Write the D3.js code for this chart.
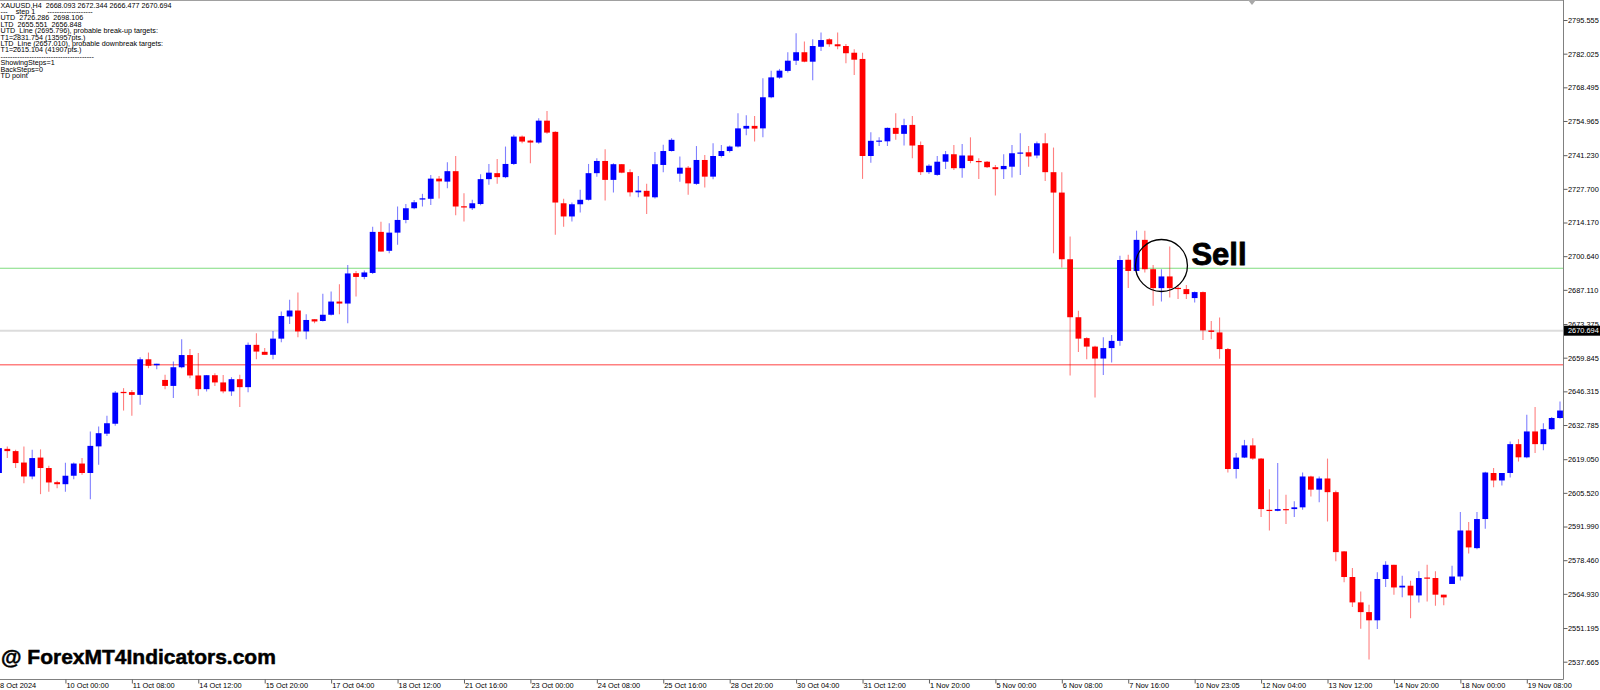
<!DOCTYPE html>
<html>
<head>
<meta charset="utf-8">
<script src="https://cdn.jsdelivr.net/npm/d3@7/dist/d3.min.js"></script>
<style>
  html, body { margin: 0; padding: 0; background: #fff; }
  svg { display: block; }
</style>
</head>
<body>
<div id="chart"></div>
<script>
// ---------------- DATA ----------------
const opens = [
2613.5,2623.2,2622.3,2617.7,2612.1,2619.7,2615.5,2609.8,2609.0,2612.4,
2617.3,2613.5,2624.2,2629.3,2633.3,2646.1,2646.0,2644.9,2659.2,2656.8,
2650.9,2648.5,2656.0,2660.9,2652.7,2647.2,2652.8,2649.9,2646.3,2651.2,
2648.0,2665.0,2662.2,2661.0,2667.5,2676.4,2678.8,2670.4,2675.3,2674.6,
2677.1,2682.4,2681.6,2693.8,2692.3,2693.9,2710.4,2702.8,2710.1,2715.2,
2719.9,2723.4,2723.7,2731.8,2730.6,2734.8,2720.7,2719.9,2721.6,2731.6,
2734.0,2732.4,2737.7,2748.7,2747.1,2746.3,2755.1,2750.6,2721.9,2716.6,
2721.5,2723.3,2734.0,2738.9,2731.3,2737.6,2734.4,2726.3,2726.9,2724.3,
2737.3,2742.9,2733.8,2736.2,2729.7,2739.3,2732.6,2740.9,2742.9,2744.7,
2751.9,2753.0,2752.0,2764.5,2772.4,2775.1,2779.2,2782.6,2778.8,2784.8,
2787.8,2785.8,2785.1,2782.4,2779.9,2740.9,2746.7,2746.8,2752.2,2749.8,
2753.4,2745.3,2734.4,2733.3,2738.6,2741.6,2736.0,2741.1,2738.9,2738.6,
2736.4,2735.6,2736.6,2741.9,2742.4,2741.1,2746.0,2734.4,2726.2,2699.4,
2676.1,2667.7,2664.3,2659.5,2663.7,2666.6,2699.2,2694.7,2707.2,2695.4,
2687.8,2692.5,2687.9,2687.4,2683.8,2686.2,2670.8,2670.0,2663.3,2615.1,
2619.7,2624.6,2619.3,2598.7,2598.3,2599.0,2599.0,2599.7,2612.1,2606.8,
2611.3,2605.8,2582.0,2571.7,2561.5,2557.6,2554.3,2570.9,2576.6,2567.5,
2568.2,2564.3,2571.5,2571.3,2564.6,2568.9,2571.9,2590.4,2583.3,2595.0,
2613.5,2610.5,2613.5,2625.1,2619.8,2630.2,2625.1,2631.1,2635.6
];
const highs = [
2624.5,2624.2,2622.8,2624.2,2622.8,2623.0,2616.4,2610.4,2617.6,2617.7,
2619.5,2630.2,2632.2,2636.5,2646.5,2647.6,2646.9,2660.0,2661.9,2657.4,
2653.0,2658.3,2667.3,2663.3,2661.7,2652.9,2653.6,2652.9,2652.0,2653.0,
2665.9,2669.7,2663.7,2670.6,2678.4,2683.1,2686.0,2677.3,2675.3,2685.5,
2686.4,2689.4,2697.1,2694.7,2694.9,2712.5,2714.5,2713.9,2720.6,2721.6,
2723.2,2725.7,2733.3,2732.9,2738.4,2740.9,2725.9,2723.3,2733.6,2737.7,
2739.7,2744.7,2749.4,2749.1,2747.4,2756.1,2759.0,2750.8,2723.7,2722.2,
2727.3,2737.7,2740.0,2743.6,2738.0,2737.7,2735.6,2732.9,2729.7,2742.5,
2745.4,2748.0,2740.7,2736.9,2744.9,2741.3,2746.0,2745.3,2745.1,2758.1,
2757.3,2757.0,2772.1,2775.2,2775.9,2782.6,2790.2,2786.9,2787.8,2790.5,
2788.2,2790.5,2785.9,2783.8,2782.4,2750.4,2748.4,2752.4,2758.1,2755.9,
2757.0,2746.7,2737.6,2740.9,2742.9,2745.3,2745.7,2748.4,2740.0,2738.9,
2737.3,2741.6,2745.3,2750.0,2744.9,2746.7,2750.0,2744.3,2734.4,2708.5,
2678.7,2668.1,2664.6,2668.1,2669.0,2700.8,2701.2,2710.9,2710.9,2697.1,
2695.4,2704.5,2689.1,2689.1,2686.4,2686.4,2674.6,2676.0,2663.7,2621.5,
2626.8,2627.5,2619.5,2607.0,2617.5,2604.8,2602.1,2613.7,2612.4,2612.1,
2619.3,2606.5,2582.2,2575.3,2565.9,2560.6,2573.6,2578.0,2576.6,2572.2,
2570.2,2574.0,2576.6,2574.0,2564.6,2576.2,2597.8,2593.8,2597.8,2614.0,
2615.5,2613.5,2626.2,2627.1,2636.9,2640.0,2633.5,2636.0,2642.2
];
const lows = [
2612.5,2619.5,2615.5,2609.4,2611.0,2605.0,2606.0,2607.4,2606.0,2611.0,
2612.8,2603.0,2616.8,2628.4,2632.5,2638.6,2636.5,2640.9,2655.6,2655.2,
2647.2,2643.6,2655.6,2651.6,2644.5,2646.3,2648.5,2645.6,2644.5,2640.0,
2646.0,2659.2,2661.0,2659.2,2666.0,2673.4,2668.1,2667.3,2673.7,2674.4,
2676.8,2677.3,2673.7,2684.4,2691.4,2693.5,2702.5,2701.8,2705.2,2713.9,
2719.5,2720.6,2721.2,2723.8,2727.9,2717.1,2714.6,2719.2,2721.1,2729.3,
2729.7,2732.0,2737.3,2746.0,2738.0,2745.8,2749.8,2709.2,2712.5,2714.6,
2718.2,2723.0,2732.6,2723.0,2726.2,2734.0,2724.6,2724.3,2717.6,2723.8,
2734.4,2742.7,2730.6,2725.3,2729.3,2728.2,2731.6,2740.3,2742.3,2744.3,
2749.2,2746.7,2748.4,2764.1,2771.9,2774.5,2777.5,2778.6,2771.3,2783.1,
2784.8,2783.8,2778.2,2773.5,2731.7,2738.2,2744.9,2744.9,2747.4,2745.1,
2740.0,2733.3,2733.7,2733.0,2735.7,2735.3,2732.2,2738.0,2731.7,2736.1,
2725.0,2731.7,2732.3,2733.3,2736.6,2740.0,2730.9,2701.8,2696.1,2652.7,
2662.1,2659.2,2643.8,2652.9,2657.9,2664.6,2687.8,2693.1,2694.1,2680.7,
2682.4,2684.0,2683.4,2683.4,2682.0,2667.0,2667.3,2659.4,2613.7,2611.3,
2619.5,2618.8,2595.8,2590.4,2598.1,2593.0,2595.8,2598.7,2604.1,2601.7,
2594.0,2578.0,2569.6,2559.6,2550.9,2538.5,2550.8,2567.7,2564.6,2563.6,
2555.1,2561.5,2561.9,2560.2,2560.4,2568.9,2570.3,2581.1,2582.9,2591.1,
2607.8,2608.5,2611.7,2618.1,2619.4,2621.5,2622.6,2630.9,2635.3
];
const closes = [
2623.5,2622.3,2617.5,2612.1,2619.5,2615.5,2609.7,2609.0,2612.4,2617.3,
2613.5,2624.4,2629.5,2633.5,2645.8,2645.6,2644.9,2659.2,2656.6,2657.4,
2648.5,2656.0,2660.9,2652.7,2647.2,2652.8,2649.9,2646.3,2651.2,2648.0,
2665.0,2662.3,2661.0,2667.5,2676.6,2678.8,2670.4,2675.0,2674.4,2677.1,
2682.4,2681.6,2693.7,2692.3,2694.1,2710.4,2702.5,2710.1,2715.2,2719.9,
2722.3,2723.9,2731.8,2730.7,2734.8,2720.6,2720.2,2721.9,2731.6,2734.2,
2732.4,2737.7,2748.7,2746.7,2746.3,2755.1,2750.3,2722.2,2716.6,2721.5,
2723.3,2734.0,2738.9,2731.3,2737.6,2734.2,2726.3,2727.0,2724.6,2737.6,
2742.9,2747.4,2736.2,2729.9,2739.3,2732.6,2740.9,2742.9,2744.7,2752.0,
2753.0,2751.9,2764.5,2772.5,2775.2,2779.2,2782.6,2778.8,2785.1,2787.5,
2785.8,2785.0,2782.2,2779.6,2740.9,2747.0,2747.1,2752.2,2749.8,2753.3,
2745.1,2734.4,2737.0,2738.6,2741.6,2736.0,2741.1,2738.9,2738.5,2736.4,
2735.6,2736.9,2742.0,2742.3,2740.7,2746.0,2734.4,2726.2,2699.4,2676.1,
2667.5,2664.3,2659.5,2663.7,2666.6,2699.1,2694.7,2707.2,2695.4,2687.8,
2692.5,2687.8,2687.5,2685.4,2686.2,2670.8,2670.2,2663.3,2615.1,2619.7,
2624.6,2619.3,2599.0,2598.3,2599.0,2598.6,2599.7,2612.1,2606.8,2611.3,
2605.8,2581.7,2571.7,2561.5,2557.6,2554.3,2570.9,2576.6,2567.5,2568.2,
2564.3,2571.3,2571.1,2564.6,2563.5,2571.9,2590.4,2583.6,2595.0,2613.7,
2610.5,2613.5,2625.1,2619.8,2630.2,2625.1,2631.1,2635.6,2638.6
];

const timeLabels = ["8 Oct 2024","10 Oct 00:00","11 Oct 08:00","14 Oct 12:00","15 Oct 20:00",
  "17 Oct 04:00","18 Oct 12:00","21 Oct 16:00","23 Oct 00:00","24 Oct 08:00","25 Oct 16:00",
  "28 Oct 20:00","30 Oct 04:00","31 Oct 12:00","1 Nov 20:00","5 Nov 00:00","6 Nov 08:00",
  "7 Nov 16:00","10 Nov 23:05","12 Nov 04:00","13 Nov 12:00","14 Nov 20:00","18 Nov 00:00",
  "19 Nov 08:00"];
const barsPerLabel = 8;

const priceTicks = [2795.555,2782.025,2768.495,2754.965,2741.230,2727.700,2714.170,2700.640,
  2687.110,2673.375,2659.845,2646.315,2632.785,2619.050,2605.520,2591.990,2578.460,2564.930,
  2551.195,2537.665];

const utdLine = 2695.796;
const ltdLine = 2657.010;
const currentPrice = 2670.694;

const infoLines = [
  "XAUUSD,H4  2668.093 2672.344 2666.477 2670.694",
  "---    step 1      -------------------",
  "UTD  2726.286  2698.106",
  "LTD  2655.551  2656.848",
  "UTD_Line (2695.796), probable break-up targets:",
  "T1=2831.754 (135957pts.)",
  "LTD_Line (2657.010), probable downbreak targets:",
  "T1=2615.104 (41907pts.)",
  "---------------------------------------",
  "ShowingSteps=1",
  "BackSteps=0",
  "TD point"
];

const sellSignal = { index: 140, price: 2696.9, text: "Sell" };
const watermark = "@ ForexMT4Indicators.com";

// ---------------- CHART ----------------
const W = 1600, H = 690;
const plotRight = 1563.5, plotBottom = 679.5;

const x = d3.scaleLinear().domain([0, 188]).range([-1, 1560]);
const y = d3.scaleLinear().domain([2537.665, 2795.555]).range([661.7, 20]);

const svg = d3.select("#chart").append("svg")
  .attr("width", W).attr("height", H)
  .attr("font-family", "'Liberation Sans', Arial, sans-serif");

svg.append("rect").attr("width", W).attr("height", H).attr("fill", "#fff");

svg.append("defs").append("clipPath").attr("id", "plotclip")
  .append("rect").attr("x", 0).attr("y", 0).attr("width", plotRight).attr("height", plotBottom);

const plot = svg.append("g").attr("clip-path", "url(#plotclip)");

// level lines
const levels = [
  { v: currentPrice, color: "#dcdcdc", w: 2 },
  { v: utdLine, color: "#7fdc7f", w: 1.2 },
  { v: ltdLine, color: "#ff8080", w: 1.4 }
];
plot.selectAll("line.level").data(levels).enter().append("line")
  .attr("class", "level")
  .attr("x1", 0).attr("x2", plotRight)
  .attr("y1", d => y(d.v)).attr("y2", d => y(d.v))
  .attr("stroke", d => d.color).attr("stroke-width", d => d.w);

// candles
const bars = opens.map((o, i) => ({ i, o, h: highs[i], l: lows[i], c: closes[i] }));
const colorOf = d => d.c >= d.o ? "#0000ff" : "#ff0000";

plot.selectAll("line.wick").data(bars).enter().append("line")
  .attr("class", "wick")
  .attr("x1", d => x(d.i)).attr("x2", d => x(d.i))
  .attr("y1", d => y(d.h)).attr("y2", d => y(d.l))
  .attr("stroke", colorOf).attr("stroke-width", 1.1).attr("stroke-opacity", 0.5);

const bw = 5.8;
plot.selectAll("rect.body").data(bars).enter().append("rect")
  .attr("class", "body")
  .attr("x", d => x(d.i) - bw / 2).attr("width", bw)
  .attr("y", d => y(Math.max(d.o, d.c)))
  .attr("height", d => Math.max(1.2, Math.abs(y(d.o) - y(d.c))))
  .attr("fill", colorOf);

// sell annotation
const cx = x(sellSignal.index), cy = y(sellSignal.price);
svg.append("circle").attr("cx", cx).attr("cy", cy).attr("r", 26)
  .attr("fill", "none").attr("stroke", "#000").attr("stroke-width", 1.3);
svg.append("text").attr("x", cx + 30).attr("y", cy - 0.5)
  .attr("font-size", 31).attr("font-weight", "bold")
  .attr("stroke", "#000").attr("stroke-width", 0.8)
  .attr("fill", "#000").text(sellSignal.text);

// frame lines
svg.append("line").attr("x1", 0).attr("x2", plotRight).attr("y1", 0.5).attr("y2", 0.5)
  .attr("stroke", "#a0a0a0").attr("stroke-width", 1);
svg.append("line").attr("x1", plotRight).attr("x2", plotRight).attr("y1", 0).attr("y2", plotBottom)
  .attr("stroke", "#808080").attr("stroke-width", 1);
svg.append("line").attr("x1", 0).attr("x2", plotRight).attr("y1", plotBottom).attr("y2", plotBottom)
  .attr("stroke", "#808080").attr("stroke-width", 1);

// chart-shift marker
svg.append("path").attr("d", "M1248,0 L1256,0 L1252,5 Z").attr("fill", "#a8a8a8");

// right price axis
const yAxis = d3.axisRight(y).tickValues(priceTicks)
  .tickFormat(d => d.toFixed(3)).tickSize(4).tickSizeOuter(0).tickPadding(0);
const gy = svg.append("g").attr("transform", `translate(${plotRight},0)`).call(yAxis);
gy.select(".domain").remove();
gy.selectAll(".tick line").attr("stroke", "#606060");
gy.selectAll(".tick text").attr("font-size", 7.4).attr("fill", "#000")
  .attr("font-family", "'Liberation Sans', Arial, sans-serif").attr("x", 4.5);

// bottom time axis
const labelIdx = timeLabels.map((_, k) => k * barsPerLabel);
const xAxis = d3.axisBottom(x).tickValues(labelIdx)
  .tickFormat((d, k) => timeLabels[k]).tickSize(4).tickSizeOuter(0).tickPadding(0);
const gx = svg.append("g").attr("transform", `translate(0,${plotBottom})`).call(xAxis);
gx.select(".domain").remove();
gx.selectAll(".tick line").attr("stroke", "#606060");
gx.selectAll(".tick text").attr("font-size", 7.4).attr("fill", "#000")
  .attr("font-family", "'Liberation Sans', Arial, sans-serif")
  .attr("text-anchor", "start").attr("x", 0.5).attr("y", 3.2);

// current price label
const cpY = y(currentPrice);
svg.append("rect").attr("x", plotRight + 0.5).attr("y", cpY - 5).attr("width", W - plotRight)
  .attr("height", 10).attr("fill", "#000");
svg.append("text").attr("x", plotRight + 4.5).attr("y", cpY).attr("dy", "0.34em")
  .attr("font-size", 7.4).attr("fill", "#fff").text(currentPrice.toFixed(3));

// info text (top-left)
svg.append("g").selectAll("text").data(infoLines).enter().append("text")
  .attr("x", 0.5).attr("y", (d, k) => 7.5 + k * 6.4)
  .attr("font-size", 7.2).attr("fill", "#000")
  .style("white-space", "pre")
  .text(d => d);

// watermark
svg.append("text").attr("x", 1).attr("y", 664)
  .attr("font-size", 21).attr("font-weight", "bold").attr("fill", "#000")
  .attr("stroke", "#000").attr("stroke-width", 0.5)
  .text(watermark);
</script>
</body>
</html>
